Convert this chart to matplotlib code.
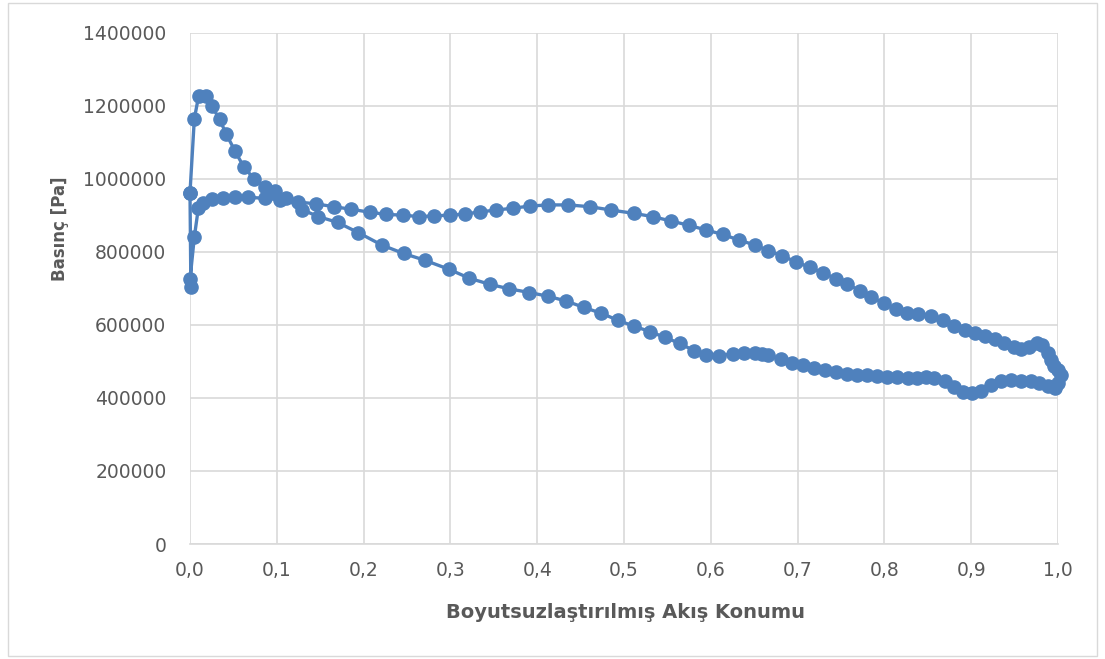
import matplotlib
matplotlib.use("Agg")
import matplotlib.pyplot as plt
import numpy as np
from matplotlib.patches import Rectangle

# Branch with the leading-edge peak (leading edge -> trailing edge)
x_peak = [0.000, 0.005, 0.010, 0.018, 0.025, 0.034, 0.042, 0.052, 0.062, 0.074,
          0.086, 0.098, 0.111, 0.129, 0.148, 0.170, 0.194, 0.221, 0.246, 0.271,
          0.298, 0.322, 0.346, 0.368, 0.391, 0.412, 0.433, 0.454, 0.474, 0.493,
          0.511, 0.530, 0.547, 0.564, 0.581, 0.595, 0.609, 0.625, 0.638, 0.651,
          0.659, 0.666, 0.681, 0.693, 0.706, 0.719, 0.732, 0.744, 0.757, 0.769,
          0.780, 0.792, 0.803, 0.815, 0.827, 0.838, 0.848, 0.857, 0.870, 0.880,
          0.891, 0.901, 0.911, 0.923, 0.934, 0.946, 0.957, 0.969, 0.978, 0.988,
          0.996, 1.000]
p_peak = [963, 1165, 1228, 1228, 1200, 1164, 1122, 1076, 1033, 1000,
          978, 966, 947, 916, 897, 881, 853, 819, 796, 777,
          753, 728, 711, 699, 689, 679, 666, 648, 632, 613,
          597, 582, 566, 550, 529, 518, 516, 521, 522, 522,
          520, 518, 506, 497, 490, 483, 476, 470, 465, 463,
          463, 461, 458, 457, 456, 456, 457, 454, 447, 429,
          417, 413, 420, 436, 447, 449, 447, 447, 442, 433,
          427, 440]

# Flat branch (leading edge -> trailing edge)
x_flat = [0.0096, 0.015, 0.025, 0.038, 0.052, 0.067, 0.086, 0.104, 0.124, 0.145,
          0.166, 0.186, 0.207, 0.226, 0.245, 0.264, 0.281, 0.299, 0.317, 0.334,
          0.353, 0.372, 0.392, 0.413, 0.436, 0.461, 0.485, 0.511, 0.533, 0.554,
          0.575, 0.595, 0.614, 0.632, 0.651, 0.666, 0.682, 0.698, 0.714, 0.729,
          0.744, 0.757, 0.772, 0.785, 0.799, 0.813, 0.826, 0.839, 0.854, 0.867,
          0.880, 0.893, 0.904, 0.916, 0.927, 0.938, 0.949, 0.957, 0.967, 0.976,
          0.982, 0.988, 0.992, 0.995, 1.000, 1.003]
p_flat = [920, 933, 945, 948, 951, 950, 947, 943, 937, 932,
          924, 917, 909, 903, 901, 897, 899, 901, 904, 910,
          915, 920, 926, 929, 929, 924, 915, 906, 897, 885,
          873, 860, 848, 833, 819, 804, 790, 773, 758, 743,
          727, 712, 694, 678, 659, 644, 634, 630, 625, 614,
          598, 586, 579, 570, 561, 550, 539, 533, 539, 550,
          545, 524, 504, 488, 477, 463]

# Points at the leading edge closing the loop
x_le = [0.005, 0.000, 0.001, 0.000]
p_le = [841, 725, 705, 963]

x_all = np.concatenate([x_peak, x_flat[::-1], x_le])
p_all = np.concatenate([p_peak, p_flat[::-1], p_le]) * 1000.0

blue = "#4F81BD"
txt = "#595959"
grid = "#D9D9D9"

fig = plt.figure(figsize=(11.05, 6.59), dpi=100)
ax = fig.add_axes([190 / 1105, 1 - 544 / 659, 868 / 1105, 511 / 659])

ax.plot(x_all, p_all, color=blue, lw=2.4, marker="o", ms=9.5,
        markerfacecolor=blue, markeredgecolor=blue, clip_on=False, zorder=3)

ax.set_xlim(0, 1)
ax.set_ylim(0, 1400000)
ax.set_xticks(np.arange(0, 1.01, 0.1))
ax.set_xticklabels([f"{v:.1f}".replace(".", ",") for v in np.arange(0, 1.01, 0.1)])
ax.set_yticks(np.arange(0, 1400001, 200000))
ax.set_yticklabels([str(v) for v in range(0, 1400001, 200000)])
ax.grid(True, color=grid, lw=1.2)
ax.set_axisbelow(True)
for s in ["top", "right", "left"]:
    ax.spines[s].set_visible(False)
ax.spines["bottom"].set_color(grid)
ax.spines["bottom"].set_linewidth(1.2)
ax.tick_params(axis="both", length=0, labelsize=13.5, labelcolor=txt)
ax.tick_params(axis="y", pad=17)
ax.tick_params(axis="x", pad=12)

fig.text(60 / 1105, 1 - 229 / 659, "Basınç [Pa]", rotation=90, ha="center",
         va="center", fontsize=12, fontweight="bold", color=txt)
fig.text(625 / 1105, 1 - 613 / 659, "Boyutsuzlaştırılmış Akış Konumu",
         ha="center", va="center", fontsize=14, fontweight="bold", color=txt)

fig.patches.append(Rectangle((8 / 1105, 3 / 659), 1089 / 1105, 653 / 659,
                             transform=fig.transFigure, fill=False,
                             edgecolor=grid, lw=1.0))

fig.savefig("out.png", dpi=100)
